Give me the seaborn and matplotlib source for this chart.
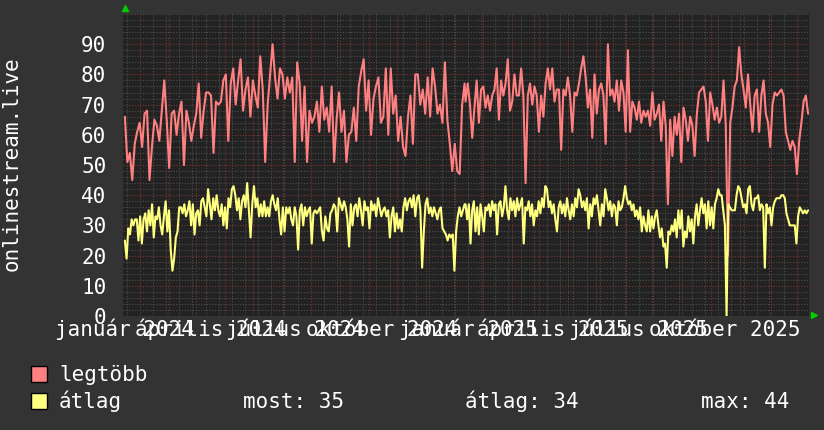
import pandas as pd
import seaborn as sns
import matplotlib.pyplot as plt
import matplotlib.dates as mdates
from matplotlib.ticker import MultipleLocator, NullFormatter
from matplotlib.patches import Rectangle

# daily-ish samples, split in two halves (dec 2023 - dec 2024, dec 2024 - dec 2025)
legtobb_1 = [66, 51, 54, 45, 57, 61, 64, 56, 67, 68, 45, 56, 65, 63, 58, 68, 78, 65, 49, 67,
             68, 60, 67, 71, 50, 68, 64, 58, 63, 67, 77, 59, 68, 74, 74, 73, 54, 71, 70, 71,
             78, 80, 58, 77, 82, 70, 78, 85, 68, 75, 79, 66, 78, 73, 69, 86, 75, 51, 70, 80,
             90, 79, 72, 82, 80, 72, 79, 74, 79, 51, 84, 77, 58, 76, 51, 68, 64, 66, 71, 61,
             76, 65, 69, 61, 76, 51, 65, 74, 61, 68, 51, 60, 61, 69, 58, 76, 81, 85, 68, 78,
             60, 72, 76, 79, 64, 66, 82, 60, 82, 67, 73, 58, 66, 56, 53, 66, 73, 57, 80, 80,
             70, 75, 67, 79, 66, 82, 76, 67, 70, 64, 84, 65, 57, 48, 57, 48, 47, 70, 77]
legtobb_2 = [71, 77, 70, 59, 69, 78, 64, 75, 76, 69, 73, 68, 73, 75, 82, 65, 78, 73, 77, 85,
             68, 71, 80, 73, 73, 82, 73, 44, 73, 77, 70, 76, 73, 61, 73, 66, 77, 82, 75, 82,
             71, 75, 75, 55, 75, 73, 79, 73, 61, 74, 73, 77, 82, 86, 79, 69, 75, 59, 80, 67,
             75, 77, 73, 57, 90, 73, 75, 71, 78, 68, 78, 74, 61, 88, 61, 71, 69, 65, 71, 64,
             68, 66, 68, 63, 74, 65, 67, 70, 58, 71, 63, 37, 65, 53, 66, 60, 67, 51, 69, 65,
             58, 66, 63, 53, 67, 74, 75, 76, 71, 58, 74, 70, 65, 69, 64, 66, 78, 63, 20, 64,
             69, 76, 78, 89, 80, 75, 69, 80, 70, 61, 73, 75, 61, 73, 78, 67, 64, 56, 70, 74,
             73, 74, 75, 73, 61, 58, 55, 58, 56, 47, 58, 64, 71, 73, 67]
atlag_1 = [25, 19, 29, 27, 32, 30, 32, 32, 25, 33, 24, 32, 34, 28, 35, 30, 37, 26, 33, 32,
           36, 30, 27, 33, 38, 28, 35, 22, 15, 19, 26, 28, 36, 36, 34, 37, 33, 35, 38, 30,
           37, 27, 34, 35, 30, 38, 39, 36, 33, 42, 37, 32, 39, 35, 40, 35, 33, 37, 30, 36,
           29, 39, 36, 42, 43, 40, 35, 39, 32, 38, 40, 36, 44, 35, 26, 37, 43, 36, 39, 33,
           37, 33, 38, 33, 36, 33, 38, 40, 37, 35, 39, 32, 27, 36, 28, 36, 34, 36, 32, 30,
           36, 33, 22, 35, 37, 30, 36, 33, 35, 36, 24, 34, 35, 34, 35, 36, 28, 25, 33, 29,
           28, 34, 35, 37, 36, 28, 39, 37, 35, 38, 36, 32, 23, 37, 30, 36, 37, 33, 39, 35,
           30, 38, 35, 36, 29, 38, 35, 37, 33, 39, 36, 33, 35, 36, 33, 35, 26, 33, 36, 28,
           34, 29, 32, 28, 36, 39, 35, 38, 39, 36, 40, 33, 39, 40, 35, 16, 28, 37, 39, 34,
           36, 33, 36, 34, 32, 35, 36, 29, 28, 27, 25, 27, 26, 27, 15, 28, 33, 36, 33, 35, 37]
atlag_2 = [37, 32, 37, 24, 35, 38, 28, 36, 27, 37, 33, 28, 36, 35, 37, 33, 38, 35, 37, 27,
           37, 38, 33, 36, 43, 35, 32, 39, 35, 38, 33, 39, 35, 37, 39, 24, 36, 35, 38, 33,
           37, 30, 35, 33, 38, 34, 39, 36, 43, 42, 36, 38, 34, 37, 32, 28, 36, 38, 34, 37,
           33, 39, 35, 32, 37, 33, 39, 36, 42, 40, 36, 38, 35, 39, 29, 37, 33, 39, 37, 40,
           35, 30, 37, 33, 42, 39, 35, 38, 33, 37, 36, 30, 38, 35, 36, 39, 43, 39, 37, 38,
           35, 37, 33, 35, 32, 36, 28, 33, 30, 28, 35, 28, 33, 29, 33, 35, 30, 26, 29, 23,
           24, 16, 28, 27, 30, 28, 32, 26, 35, 29, 35, 23, 28, 26, 33, 28, 32, 24, 33, 37,
           30, 35, 39, 34, 37, 29, 38, 30, 36, 29, 37, 39, 42, 40, 40, 35, 30, 0, 37, 36,
           35, 35, 35, 40, 43, 42, 39, 36, 37, 34, 42, 43, 37, 35, 39, 39, 40, 35, 37, 36,
           16, 37, 34, 36, 30, 36, 38, 39, 39, 39, 40, 40, 39, 34, 32, 30, 30, 30, 30, 24,
           33, 36, 35, 34, 35, 34, 35]

quarter_starts = ["2024-01-01", "2024-04-01", "2024-07-01", "2024-10-01",
                  "2025-01-01", "2025-04-01", "2025-07-01", "2025-10-01"]
quarter_labels = ["január 2024", "április 2024", "július 2024", "október 2024",
                  "január 2025", "április 2025", "július 2025", "október 2025"]
stat_names = ["most", "átlag", "max"]
stat_values = [35, 34, 44]

BACK = "#333333"
CANVAS = "#222222"
RED = "#ff8080"
YELLOW = "#ffff80"
MAJOR = "#7a3434"
MINOR = "#4e4e4e"
FONT = "#ffffff"


def series_frame(first, second):
    dates = pd.date_range("2023-12-16", "2024-12-12", periods=len(first)).append(
        pd.date_range("2024-12-13", "2025-12-13", periods=len(second)))
    return pd.DataFrame({"date": dates, "value": first + second})


def make_plot():
    sns.set_style("dark", {"axes.facecolor": CANVAS, "figure.facecolor": BACK})
    plt.rcParams["font.family"] = ["DejaVu Sans Mono", "DejaVu Sans"]
    fs = 15

    fig = plt.figure(figsize=(8.24, 4.30), dpi=100, facecolor=BACK)
    ax = fig.add_axes([123 / 824, 1 - 316 / 430, 686 / 824, 302 / 430])
    ax.set_facecolor(CANVAS)

    sns.lineplot(data=series_frame(legtobb_1, legtobb_2), x="date", y="value",
                 color=RED, lw=1.5, estimator=None, ax=ax)
    sns.lineplot(data=series_frame(atlag_1, atlag_2), x="date", y="value",
                 color=YELLOW, lw=1.5, estimator=None, ax=ax)

    ax.set_xlim(pd.Timestamp("2023-12-14"), pd.Timestamp("2025-12-14"))
    ax.set_ylim(0, 100)
    ax.set_yticks(range(0, 100, 10))
    ax.yaxis.set_minor_locator(MultipleLocator(2))
    ax.xaxis.set_major_locator(mdates.MonthLocator())
    ax.xaxis.set_minor_locator(mdates.WeekdayLocator(byweekday=mdates.MO, interval=2))
    ax.xaxis.set_major_formatter(NullFormatter())
    ax.set_xlabel("")
    ax.set_ylabel("")

    ax.set_axisbelow(True)
    ax.grid(which="minor", color=MINOR, linestyle=(0, (1, 1.5)), lw=0.8)
    ax.grid(which="major", color=MAJOR, linestyle=(0, (1, 1.5)), lw=0.8)
    ax.tick_params(axis="x", which="major", color=MAJOR, length=3, width=0.8)
    ax.tick_params(axis="x", which="minor", color=MINOR, length=3, width=0.8)
    ax.tick_params(axis="y", which="both", color=MINOR, length=2, width=0.8,
                   labelcolor=FONT, labelsize=fs, pad=10)
    for s in ax.spines.values():
        s.set_visible(False)

    for start, label in zip(quarter_starts, quarter_labels):
        pos = pd.Timestamp(start) - pd.Timedelta(days=16)
        ax.annotate(label, xy=(mdates.date2num(pos), 0), xycoords=("data", "axes fraction"),
                    xytext=(0, -14.4), textcoords="offset points",
                    ha="center", va="baseline", color=FONT, fontsize=fs)

    # rrdtool style axis arrows
    ax.plot([2 / 686], [1 + 6 / 302], marker="^", color="#00cc00", ms=4,
            transform=ax.transAxes, clip_on=False)
    ax.plot([1 + 5 / 686], [1 / 302], marker=">", color="#00cc00", ms=4,
            transform=ax.transAxes, clip_on=False)

    fig.text(12 / 824, 1 - 164 / 430, "onlinestream.live", rotation=90,
             ha="center", va="center", color=FONT, fontsize=fs)

    # legend rows
    for color, name, base in [(RED, "legtöbb", 381), (YELLOW, "átlag", 408.5)]:
        fig.patches.append(Rectangle((31 / 824, 1 - (base + 0.5) / 430), 16 / 824, 16 / 430,
                                     transform=fig.transFigure, facecolor=color,
                                     edgecolor="black", lw=1))
        fig.text(59 / 824, 1 - base / 430, name, va="baseline", color=FONT, fontsize=fs)
    for x, name, value in zip([243, 465, 701], stat_names, stat_values):
        fig.text(x / 824, 1 - 408.5 / 430, "{}: {}".format(name, value),
                 va="baseline", color=FONT, fontsize=fs)

    fig.savefig("out.png", dpi=100, facecolor=BACK)


if __name__ == "__main__":
    make_plot()
